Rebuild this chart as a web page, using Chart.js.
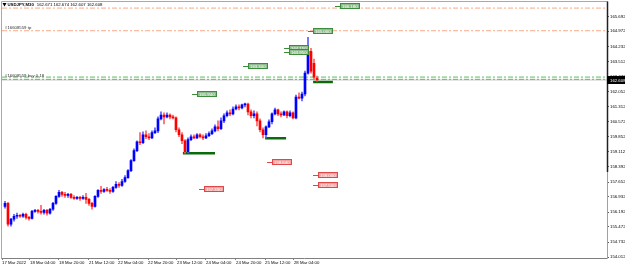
<!DOCTYPE html>
<html><head><meta charset="utf-8">
<script src="https://cdn.jsdelivr.net/npm/chart.js@4.4.1/dist/chart.umd.min.js"></script>
<style>html,body{margin:0;padding:0;background:#fff;overflow:hidden}canvas{display:block}</style>
</head><body>
<canvas id="c" width="625" height="268"></canvas>
<script>
const opens = [
156.47,156.62,155.61,155.85,155.99,156.04,155.99,156.09,155.94,155.89,
156.23,156.28,156.23,156.18,156.28,156.14,156.33,156.62,156.96,157.15,
157.05,157.00,157.05,156.91,156.86,156.91,156.86,156.91,156.81,156.62,
156.47,156.96,157.25,157.20,157.29,157.25,157.20,157.39,157.54,157.49,
157.68,157.87,158.21,158.69,159.18,159.61,159.56,159.95,159.85,159.80,
160.05,160.14,160.72,160.91,160.82,160.91,160.82,160.77,160.19,159.95,
159.66,159.13,159.71,159.85,159.80,159.95,159.85,159.80,159.90,160.00,
160.14,160.33,160.24,160.62,160.87,161.01,160.96,161.20,161.30,161.25,
161.40,161.44,161.06,160.87,160.96,160.62,160.19,159.95,160.33,160.58,
160.96,161.16,160.96,160.91,161.06,160.87,161.01,160.77,161.78,161.73,
161.93,162.94,164.00,163.42,162.70];
const highs = [
156.72,156.67,155.89,156.09,156.14,156.09,156.14,156.14,155.99,156.28,
156.33,156.33,156.52,156.33,156.33,156.38,156.67,157.00,157.25,157.20,
157.15,157.10,157.10,157.00,156.96,156.96,157.00,157.10,156.86,156.67,
157.00,157.29,157.44,157.34,157.39,157.34,157.44,157.68,157.63,157.78,
157.97,158.26,158.74,159.27,159.66,160.05,160.09,160.14,160.00,160.14,
160.29,160.82,161.06,161.01,161.01,160.96,160.91,160.82,160.29,160.05,
159.71,159.80,159.95,159.95,160.00,160.00,159.95,160.00,160.09,160.24,
160.43,160.62,160.77,160.96,161.11,161.16,161.30,161.40,161.40,161.44,
161.49,161.49,161.16,161.11,161.06,160.72,160.29,160.38,160.67,161.01,
161.25,161.20,161.06,161.11,161.11,161.11,161.06,161.88,161.98,162.02,
163.04,164.68,164.15,163.62,162.80];
const lows = [
156.38,155.51,155.51,155.75,155.89,155.94,155.94,155.85,155.80,155.85,
156.18,156.14,156.09,156.09,156.04,156.09,156.28,156.57,156.91,156.96,
156.91,156.91,156.86,156.81,156.81,156.76,156.81,156.62,156.52,156.33,
156.43,156.91,157.10,157.15,157.20,157.10,157.15,157.34,157.39,157.44,
157.63,157.83,158.16,158.65,159.13,159.47,159.51,159.76,159.71,159.76,
160.00,160.05,160.67,160.48,160.77,160.72,160.72,160.09,159.85,159.51,
159.05,159.08,159.66,159.76,159.76,159.80,159.71,159.76,159.85,159.95,
160.09,160.14,160.19,160.53,160.82,160.87,160.91,161.16,161.16,161.20,
161.30,160.91,160.77,160.77,160.38,160.09,159.80,159.80,160.29,160.48,
160.91,160.87,160.82,160.87,160.77,160.82,160.72,160.72,161.69,161.59,
161.83,162.89,162.94,162.65,162.55];
const closes = [
156.62,155.61,155.85,155.99,156.04,155.99,156.09,155.94,155.89,156.23,
156.28,156.23,156.18,156.28,156.14,156.33,156.62,156.96,157.15,157.05,
157.00,157.05,156.91,156.86,156.91,156.86,156.91,156.81,156.62,156.47,
156.96,157.25,157.20,157.29,157.25,157.20,157.39,157.54,157.49,157.68,
157.87,158.21,158.69,159.18,159.61,159.56,159.95,159.85,159.80,160.05,
160.14,160.72,160.91,160.82,160.91,160.82,160.77,160.19,159.95,159.66,
159.13,159.71,159.85,159.80,159.95,159.85,159.80,159.90,160.00,160.14,
160.33,160.24,160.62,160.87,161.01,160.96,161.20,161.30,161.25,161.40,
161.44,161.06,160.87,160.96,160.62,160.19,159.95,160.33,160.58,160.96,
161.16,160.96,160.91,161.06,160.87,161.01,160.77,161.78,161.73,161.93,
162.94,164.00,163.04,162.75,162.608];

const xTickLabels = ["17 Mar 2022","18 Mar 04:00","18 Mar 20:00","21 Mar 12:00","22 Mar 04:00","22 Mar 20:00","23 Mar 12:00","24 Mar 04:00","24 Mar 20:00","25 Mar 12:00","28 Mar 04:00"];
const xTickPos = [-1, 8.33, 18, 28, 37.67, 47.67, 57.33, 67, 77, 86.67, 96.33];
const yTicks = [165.692,164.972,164.232,163.512,162.772,162.052,161.312,160.572,159.852,159.112,158.392,157.652,156.932,156.192,155.472,154.732,154.012];

const tpLevels = [166.10, 165.00];
const buyLevels = [162.75, 162.64];
const bidPrice = 162.608;
const supportLevels = [159.05, 159.78, 162.51];
const supportFrom = [59.3, 86.7, 102.7];
const supportTo = [70, 93.7, 109.3];
const greenLabelPrices = [166.18, 165.00, 164.15, 163.95, 163.30, 161.94];
const greenLabelAt = [111.7, 102.7, 94.7, 94.7, 81, 64];
const redLabelPrices = [158.64, 157.33, 158.00, 157.50];
const redLabelAt = [89, 66.3, 104.3, 104.3];
const headerSymbol = "USDJPY,M30";
const headerPrices = ["162.671","162.674","162.607","162.608"];
const orderTexts = ["#16608559 tp", "#16608559 buy 0.18"];

const xMin = -1, xMax = 200.67, yMin = 153.964, yMax = 166.319;
const FAM = "'Liberation Sans', Arial, sans-serif";
const FS = 4.3;

const bodies = opens.map((o,i)=>({x:i, y:[o, closes[i]]}));
const wicks = lows.map((l,i)=>({x:i, y:[l, highs[i]]}));
const bodyColors = opens.map((o,i)=> closes[i] >= o ? '#0000ff' : '#ff0000');
const wickColors = opens.map((o,i)=> closes[i] >= o ? '#5a5aff' : '#ff6060');

function hline(level, color, width, dash, order){
  return {type:'line', data:[{x:xMin,y:level},{x:xMax,y:level}], borderColor:color, borderWidth:width,
    borderDash:dash, pointRadius:0, fill:false, tension:0, order:order};
}
const datasets = [];
tpLevels.forEach(v=>datasets.push(hline(v,'#f9a889',1,[5,2,2,2],6)));
buyLevels.forEach(v=>datasets.push(hline(v,'#5cbf5c',1,[5,2,2,2],6)));
datasets.push(hline(bidPrice,'#c8c8c8',1,[],7));
supportLevels.forEach((v,i)=>datasets.push({type:'line', data:[{x:supportFrom[i],y:v},{x:supportTo[i],y:v}],
  borderColor:'#0b6b0b', borderWidth:2.5, pointRadius:0, fill:false, order:3}));
datasets.push({type:'bar', data:wicks, backgroundColor:wickColors, barThickness:1, grouped:false, borderWidth:0, order:2});
datasets.push({type:'bar', data:bodies, backgroundColor:bodyColors, barThickness:2, minBarLength:1, grouped:false, borderWidth:0, order:1});

function priceLabel(ctx, xs, ys, price, at, fill, stroke){
  const txt = price.toFixed(3);
  const px = Math.round(xs.getPixelForValue(at));
  const py = Math.round(ys.getPixelForValue(price));
  const w = Math.ceil(ctx.measureText(txt).width) + 4, h = 6;
  ctx.strokeStyle = stroke; ctx.lineWidth = 1;
  ctx.beginPath(); ctx.moveTo(px-5, py+0.5); ctx.lineTo(px, py+0.5); ctx.stroke();
  ctx.fillStyle = fill; ctx.fillRect(px, py-3, w, h);
  ctx.strokeRect(px+0.5, py-2.5, w-1, h-1);
  ctx.fillStyle = '#ffffff'; ctx.textAlign='left'; ctx.textBaseline='middle';
  ctx.fillText(txt, px+2, py+0.5);
}

const overlay = {
  id:'overlay',
  afterDatasetsDraw(chart){
    const {ctx, scales:{x,y}} = chart;
    ctx.save();
    ctx.font = FS + 'px ' + FAM;
    greenLabelPrices.forEach((p,i)=>priceLabel(ctx,x,y,p,greenLabelAt[i],'#8fbc8f','#3c8c3c'));
    redLabelPrices.forEach((p,i)=>priceLabel(ctx,x,y,p,redLabelAt[i],'#f4a0a0','#e04848'));
    ctx.fillStyle = '#303030'; ctx.textAlign='left'; ctx.textBaseline='middle';
    ctx.fillText(orderTexts[0], 5, y.getPixelForValue(tpLevels[1]) - 3);
    ctx.fillText(orderTexts[1], 5, y.getPixelForValue(buyLevels[0]) - 1.5);
    ctx.restore();
  },
  afterDraw(chart){
    const {ctx, scales:{y}, chartArea:a} = chart;
    ctx.save();
    ctx.lineWidth = 1;
    ctx.strokeStyle = '#a8a8a8';
    ctx.beginPath();
    ctx.moveTo(1.5, a.bottom+0.5); ctx.lineTo(1.5, 1.5); ctx.lineTo(a.right+0.5, 1.5);
    ctx.stroke();
    ctx.strokeStyle = '#808080';
    ctx.beginPath(); ctx.moveTo(1.5, a.bottom+0.5); ctx.lineTo(a.right+0.5, a.bottom+0.5); ctx.stroke();
    ctx.strokeStyle = '#a0a0a0';
    ctx.beginPath(); ctx.moveTo(a.right+0.5, 1.5); ctx.lineTo(a.right+0.5, a.bottom+0.5); ctx.stroke();
    ctx.strokeStyle = '#202020'; ctx.lineWidth = 1.5;
    ctx.beginPath(); ctx.moveTo(a.right+0.5, 1.5); ctx.lineTo(a.right+0.5, 172); ctx.stroke();
    const py = Math.round(y.getPixelForValue(bidPrice));
    ctx.fillStyle = '#000'; ctx.fillRect(a.right, py-4, 625-a.right, 8);
    ctx.font = FS + 'px ' + FAM;
    ctx.fillStyle = '#fff'; ctx.textAlign='left'; ctx.textBaseline='middle';
    ctx.fillText(bidPrice.toFixed(3), a.right+3, py+0.5);
    ctx.fillStyle = '#000';
    ctx.beginPath(); ctx.moveTo(2.5,3); ctx.lineTo(6.5,3); ctx.lineTo(4.5,6.5); ctx.closePath(); ctx.fill();
    ctx.font = 'bold ' + FS + 'px ' + FAM;
    ctx.fillText(headerSymbol, 7.5, 4.8);
    let hx = 7.5 + ctx.measureText(headerSymbol).width + 3;
    ctx.font = FS + 'px ' + FAM;
    ctx.fillText(headerPrices.join(' '), hx, 4.8);
    ctx.restore();
  }
};

new Chart(document.getElementById('c'), {
  type:'bar',
  data:{datasets},
  options:{
    responsive:false, animation:false, devicePixelRatio:1,
    layout:{padding:{left:2, top:2, right:0, bottom:0}},
    plugins:{legend:{display:false}, tooltip:{enabled:false}},
    scales:{
      x:{type:'linear', min:xMin, max:xMax, offset:false, position:'bottom',
        afterBuildTicks:s=>{ s.ticks = xTickPos.map(v=>({value:v})); },
        afterFit:s=>{ s.height = 10; },
        grid:{display:true, drawOnChartArea:false, drawTicks:true, tickLength:2, color:'#808080', offset:false},
        border:{display:false},
        ticks:{autoSkip:false, maxRotation:0, minRotation:0, align:'start', padding:0,
          font:{family:FAM, size:FS}, color:'#000', callback:(v,i)=>xTickLabels[i]}},
      y:{type:'linear', position:'right', min:yMin, max:yMax,
        afterBuildTicks:s=>{ s.ticks = yTicks.map(v=>({value:v})); },
        afterFit:s=>{ s.width = 18; },
        grid:{display:true, drawOnChartArea:false, drawTicks:true, tickLength:2, color:'#606060'},
        border:{display:false},
        ticks:{padding:1, font:{family:FAM, size:FS}, color:'#000', callback:v=>Number(v).toFixed(3)}}
    }
  },
  plugins:[overlay]
});
</script>
</body></html>
